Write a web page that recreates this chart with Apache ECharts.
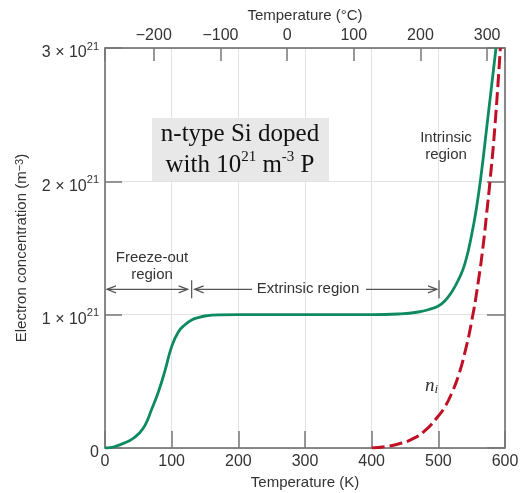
<!DOCTYPE html>
<html><head><meta charset="utf-8">
<script src="https://cdn.jsdelivr.net/npm/echarts@6/dist/echarts.min.js"></script>
<style>html,body{margin:0;padding:0;background:#fff}#c{width:521px;height:493px}</style>
</head><body><div id="c"></div>
<script>
// ---- data ----
const kelvinRange = [0, 600];
const celsiusRange = [-273.15, 326.85];
const concRange = [0, 3]; // units of 10^21 m^-3

// Electron concentration (n-type Si, 10^21 m^-3 P)
const tempN = [0, 10, 20, 30, 40, 50, 60, 70, 80, 90, 100, 110, 120, 130, 140, 150, 170, 200, 300, 400, 440, 470, 490, 500, 510, 520, 530, 540, 550, 557.5, 565, 572.5, 580, 586.5];
const electronN = [0, 0.005, 0.02, 0.04, 0.065, 0.105, 0.17, 0.29, 0.42, 0.58, 0.76, 0.87, 0.925, 0.96, 0.978, 0.99, 0.998, 1.0, 1.0, 1.0, 1.005, 1.02, 1.045, 1.065, 1.105, 1.17, 1.26, 1.385, 1.6, 1.81, 2.08, 2.4, 2.72, 3.0];

// Intrinsic carrier concentration n_i
const tempNi = [400, 420, 440, 460, 480, 500, 510, 520, 530, 540, 550, 560, 567.5, 572.5, 577.5, 585, 593];
const intrinsicNi = [0, 0.01, 0.03, 0.065, 0.13, 0.24, 0.31, 0.41, 0.54, 0.72, 0.95, 1.25, 1.53, 1.76, 2.0, 2.42, 3.0];

// region boundaries (K) and annotation level
const freezeEndK = 130;
const extrinsicEndK = 501;
const arrowLevel = 1.19;

const FONT = 'Liberation Sans, Arial, sans-serif';
const SERIF = 'Liberation Serif, Times New Roman, serif';

const nData = tempN.map((t, i) => [t, electronN[i]]);
const niData = tempNi.map((t, i) => [t, intrinsicNi[i]]);

const chart = echarts.init(document.getElementById('c'), null, {renderer: 'canvas'});

const axisLineStyle = {color: '#666', width: 1.5};
const tickStyle = {color: '#777', width: 1.5};

chart.setOption({
  animation: false,
  backgroundColor: '#fff',
  grid: {left: 105, right: 16, top: 48, bottom: 45, containLabel: false, outerBoundsMode: 'none'},
  xAxis: [{
    type: 'value', min: kelvinRange[0], max: kelvinRange[1], interval: 100,
    position: 'bottom',
    name: 'Temperature (K)', nameLocation: 'middle', nameGap: 27,
    nameTextStyle: {fontFamily: FONT, fontSize: 15, color: '#333'},
    axisLine: {show: true, onZero: false, lineStyle: axisLineStyle},
    axisTick: {show: true, inside: true, length: 17, lineStyle: tickStyle},
    axisLabel: {fontFamily: FONT, fontSize: 16, color: '#333', margin: 6},
    splitLine: {show: true, lineStyle: {color: '#e2e2e2', width: 1}}
  }, {
    type: 'value', min: celsiusRange[0], max: celsiusRange[1],
    position: 'top',
    name: 'Temperature (°C)', nameLocation: 'middle', nameGap: 25,
    nameTextStyle: {fontFamily: FONT, fontSize: 15, color: '#333'},
    axisLine: {show: true, onZero: false, lineStyle: axisLineStyle},
    axisTick: {show: true, inside: true, length: 13, lineStyle: tickStyle},
    axisLabel: {fontFamily: FONT, fontSize: 16, color: '#333', margin: 4,
      formatter: v => (Math.abs(Math.round(v) - v) < 1e-6 && Math.round(v) % 100 === 0) ? String(Math.round(v)).replace('-', '\u2212') : ''},
    splitLine: {show: false}
  }],
  yAxis: [{
    type: 'value', min: concRange[0], max: concRange[1], interval: 1,
    position: 'left',
    name: 'Electron concentration (m{s|\u22123})', nameLocation: 'middle', nameGap: 76,
    nameTextStyle: {fontFamily: FONT, fontSize: 15, color: '#333',
      rich: {s: {fontFamily: FONT, fontSize: 11, color: '#333', verticalAlign: 'top', lineHeight: 12}}},
    axisLine: {show: true, onZero: false, lineStyle: axisLineStyle},
    axisTick: {show: true, inside: true, length: 17, lineStyle: tickStyle},
    axisLabel: {margin: 6,
      formatter: v => v === 0 ? '{b|0}' : '{b|' + v + ' \u00d7 10}{s|21}',
      rich: {
        b: {fontFamily: FONT, fontSize: 16, color: '#333', lineHeight: 22, padding: [10, 0, 0, 0]},
        s: {fontFamily: FONT, fontSize: 11, color: '#333', verticalAlign: 'top', lineHeight: 12, padding: [4, 0, 0, 0]}
      }},
    splitLine: {show: true, lineStyle: {color: '#e2e2e2', width: 1}}
  }, {
    type: 'value', min: concRange[0], max: concRange[1], interval: 1,
    position: 'right',
    axisLine: {show: true, onZero: false, lineStyle: axisLineStyle},
    axisTick: {show: true, inside: true, length: 18, lineStyle: tickStyle},
    axisLabel: {show: false},
    splitLine: {show: false}
  }],
  series: [{
    name: 'n', type: 'line', xAxisIndex: 0, yAxisIndex: 0,
    data: nData, showSymbol: false, smooth: 0.5,
    lineStyle: {color: '#0e8a5f', width: 2.8}, z: 5
  }, {
    name: 'ni', type: 'line', xAxisIndex: 0, yAxisIndex: 0,
    data: niData, showSymbol: false, smooth: 0.5,
    lineStyle: {color: '#c01025', width: 3, type: [13, 5]}, z: 4
  }]
});

// ---- annotations ----
const px = (t, n) => chart.convertToPixel({xAxisIndex: 0, yAxisIndex: 0}, [t, n]);
const g = [];
const arrowColor = '#555';
const ay = px(0, arrowLevel)[1];
function hline(x1, x2) {
  g.push({type: 'line', shape: {x1: x1, y1: ay, x2: x2, y2: ay}, style: {stroke: arrowColor, lineWidth: 1.2}, z: 10});
}
function head(x, dir) {
  g.push({type: 'polyline', shape: {points: [[x - dir * 9, ay - 3.5], [x, ay], [x - dir * 9, ay + 3.5]]},
    style: {stroke: arrowColor, lineWidth: 1.2, fill: null}, z: 10});
}
function vbar(x) {
  g.push({type: 'line', shape: {x1: x, y1: ay - 9, x2: x, y2: ay + 9}, style: {stroke: arrowColor, lineWidth: 1.2}, z: 10});
}
const x0 = px(0, 0)[0] + 2;
const xf = px(freezeEndK, 0)[0];
const xe = px(extrinsicEndK, 0)[0];
// freeze-out arrow
hline(x0, xf - 4); head(x0, -1); head(xf - 4, 1); vbar(xf);
// extrinsic arrow
const xs = xf + 3;
const tcx = 308;
hline(xs, tcx - 56); hline(tcx + 58, xe - 2); head(xs, -1); head(xe - 2, 1); vbar(xe);
g.push({type: 'text', x: tcx, y: ay, style: {text: 'Extrinsic region', font: '15px ' + FONT, fill: '#333', align: 'center', verticalAlign: 'middle'}, z: 10});
g.push({type: 'text', x: 152, y: 266, style: {text: 'Freeze-out\nregion', font: '15px ' + FONT, fill: '#333', align: 'center', verticalAlign: 'middle', lineHeight: 17}, z: 10});
g.push({type: 'text', x: 446, y: 146, style: {text: 'Intrinsic\nregion', font: '15px ' + FONT, fill: '#333', align: 'center', verticalAlign: 'middle', lineHeight: 17}, z: 10});
// n_i label
g.push({type: 'text', x: 425, y: 386, style: {text: '{n|n}{i|i}', verticalAlign: 'middle',
  rich: {n: {fontFamily: SERIF, fontStyle: 'italic', fontSize: 19, fill: '#333', color: '#333', lineHeight: 20},
         i: {fontFamily: SERIF, fontStyle: 'italic', fontSize: 13, fill: '#333', color: '#333', verticalAlign: 'bottom', lineHeight: 13}}}, z: 10});
// text box
g.push({type: 'rect', shape: {x: 152, y: 118, width: 177, height: 63}, style: {fill: '#e8e8e8'}, z: 10});
g.push({type: 'text', x: 240, y: 150, style: {
  text: '{a|n-type Si doped}\n{a|with 10}{s|21}{a| m}{s|-3}{a| P}',
  align: 'center', verticalAlign: 'middle',
  rich: {
    a: {fontFamily: SERIF, fontSize: 25, color: '#111', fill: '#111', lineHeight: 31},
    s: {fontFamily: SERIF, fontSize: 15, color: '#111', fill: '#111', verticalAlign: 'top', lineHeight: 22}
  }}, z: 11});

chart.setOption({graphic: g});
</script>
</body></html>
